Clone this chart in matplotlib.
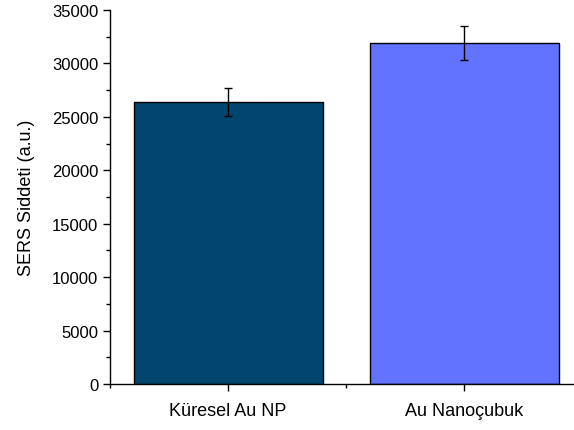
import matplotlib

matplotlib.use("Agg")
import matplotlib.pyplot as plt
from matplotlib.ticker import MultipleLocator

categories = ["Küresel Au NP", "Au Nanoçubuk"]
values = [26400, 31900]
errors = [1330, 1600]
colors = ["#00466E", "#6173FF"]

plt.rcParams["font.family"] = ["Liberation Sans", "DejaVu Sans"]

fig = plt.figure(figsize=(5.74, 4.31), dpi=100)
ax = fig.add_axes([110 / 574, 1 - 385 / 431, 463 / 574, 374 / 431])

x = list(range(len(categories)))
ax.bar(x, values, width=0.8, color=colors, edgecolor="black", linewidth=1.0,
       yerr=errors, capsize=3, error_kw={"elinewidth": 1.0, "capthick": 1.0, "ecolor": "black"},
       zorder=2)

ax.set_xlim(-0.5, 1.46)
ax.set_ylim(0, 35000)
ax.set_xticks(x)
ax.set_xticklabels(categories)
ax.xaxis.set_minor_locator(MultipleLocator(1.0, offset=0.5))
ax.yaxis.set_major_locator(MultipleLocator(5000))
ax.yaxis.set_minor_locator(MultipleLocator(2500))
ax.tick_params(axis="both", which="major", direction="out", length=5, width=1, labelsize=12)
ax.tick_params(axis="x", which="major", labelsize=13, pad=8)
ax.tick_params(axis="both", which="minor", direction="out", length=3, width=1)
ax.set_ylabel("SERS Siddeti (a.u.)", fontsize=13, labelpad=12)

for side in ["top", "right"]:
    ax.spines[side].set_visible(False)
for side in ["left", "bottom"]:
    ax.spines[side].set_linewidth(1.0)

fig.savefig("out.png", dpi=100)
